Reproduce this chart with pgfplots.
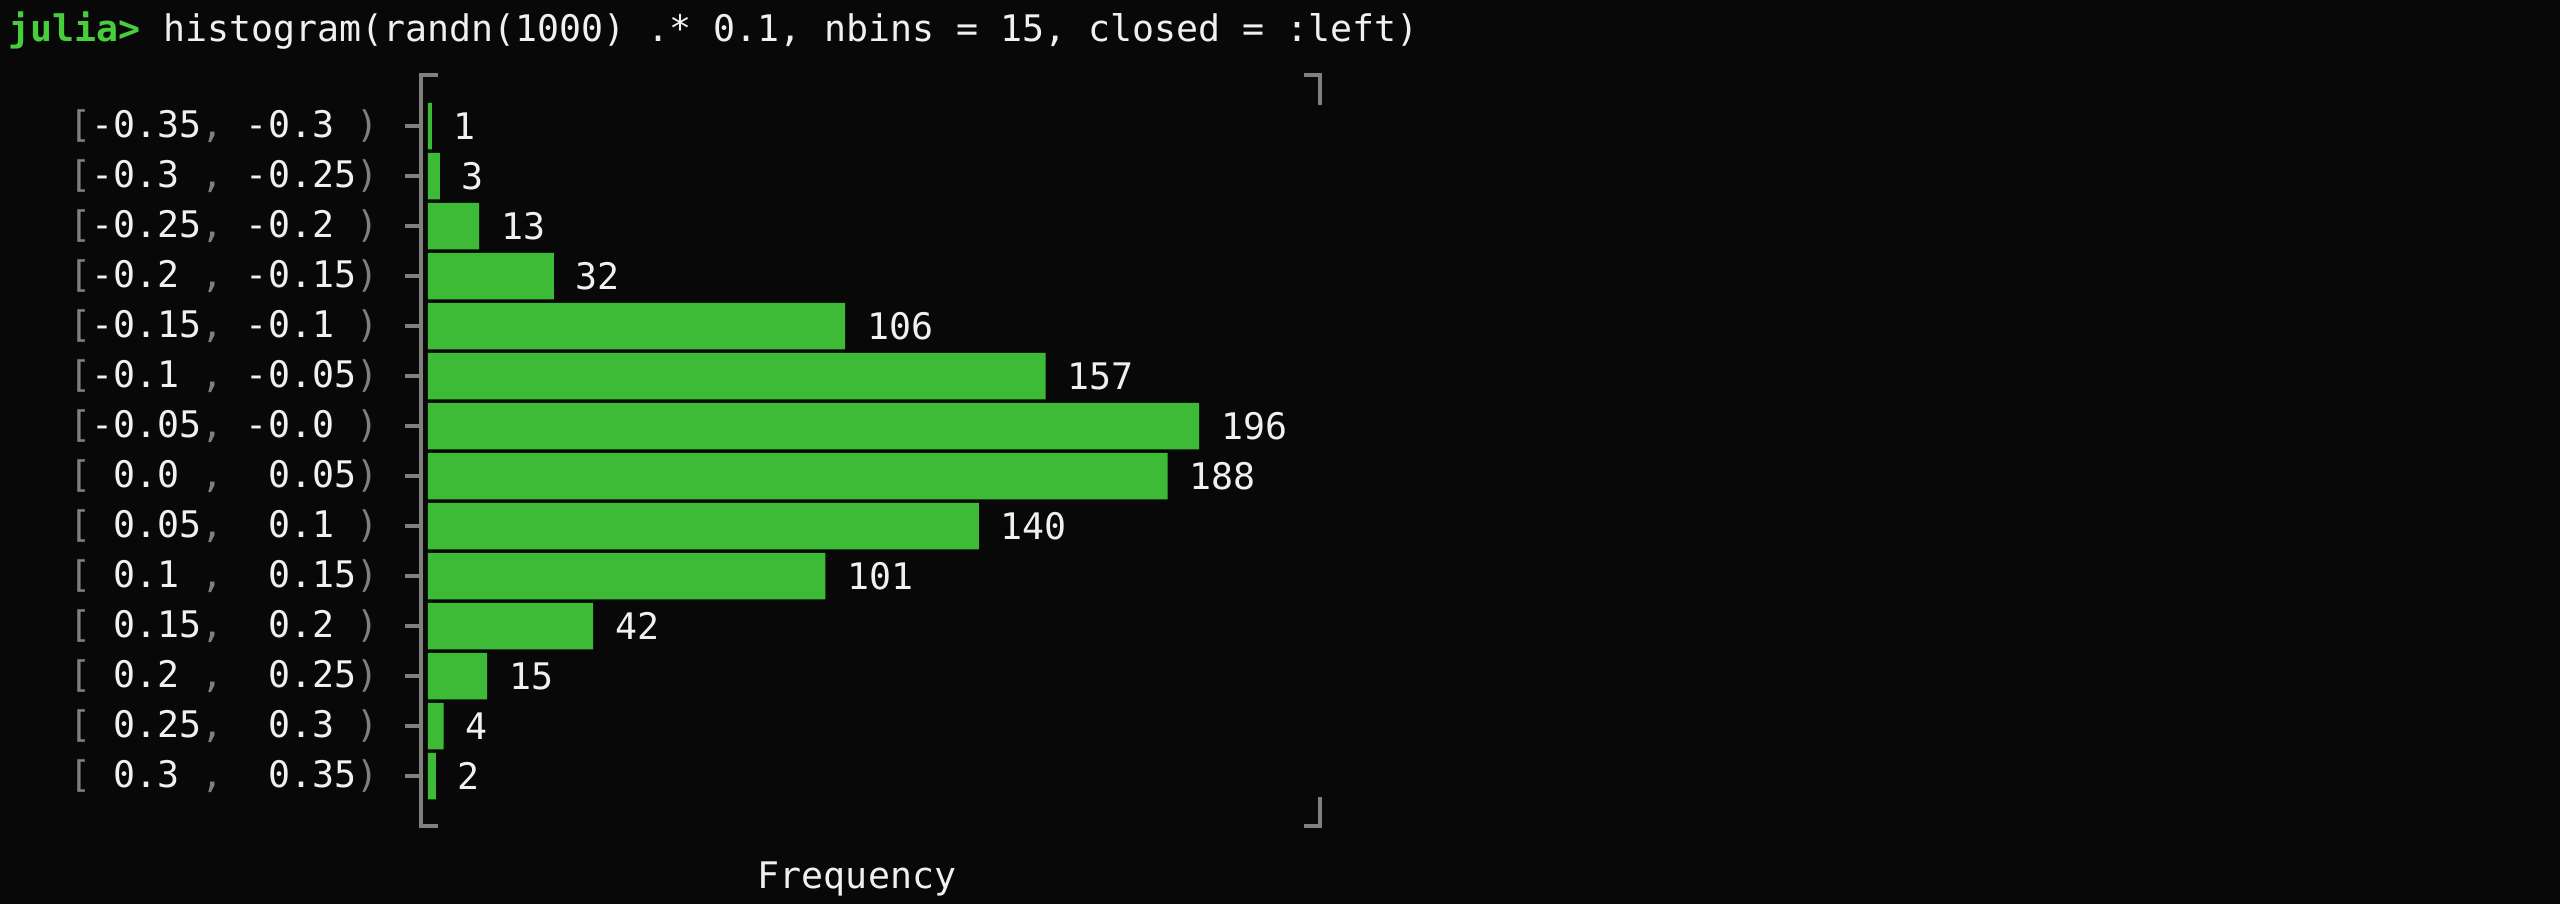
\documentclass[border=0pt]{standalone}
\usepackage{pgfplots}
\pgfplotsset{compat=1.18}
\usepackage{fontspec}
\setmainfont{DejaVu Sans Mono}
\definecolor{bg}{RGB}{8,8,8}
\definecolor{barc}{RGB}{61,187,55}
\definecolor{fg}{RGB}{240,240,240}
\definecolor{brd}{RGB}{128,128,128}
\definecolor{prompt}{RGB}{72,205,60}
\newcommand\lb{\textcolor{brd}{[}}
\newcommand\cm{\textcolor{brd}{,}}
\newcommand\rp{\textcolor{brd}{)}}
\newcommand\Sp{\hphantom{0}}
\newcommand\tfont{\fontsize{9.15}{10}\selectfont}
\begin{document}
\frenchspacing
\begin{tikzpicture}[x=1pt,y=1pt]
\fill[bg] (0,0) rectangle (640,226);
\begin{axis}[at={(107pt,19.5pt)}, anchor=south west, scale only axis,
  width=222pt, height=187.75pt,
  xbar, bar width=0.93, bar shift=0pt,
  xmin=0, xmax=225.7, ymin=-1.02, ymax=14, y dir=reverse,
  axis line style={draw=none}, xtick=\empty, ytick={0,...,13},
  major tick length=0pt, ytick style={draw=none},
  yticklabels={
    {\lb-0.35\cm\Sp-0.3\Sp\rp},
    {\lb-0.3\Sp\cm\Sp-0.25\rp},
    {\lb-0.25\cm\Sp-0.2\Sp\rp},
    {\lb-0.2\Sp\cm\Sp-0.15\rp},
    {\lb-0.15\cm\Sp-0.1\Sp\rp},
    {\lb-0.1\Sp\cm\Sp-0.05\rp},
    {\lb-0.05\cm\Sp-0.0\Sp\rp},
    {\lb\Sp0.0\Sp\cm\Sp\Sp0.05\rp},
    {\lb\Sp0.05\cm\Sp\Sp0.1\Sp\rp},
    {\lb\Sp0.1\Sp\cm\Sp\Sp0.15\rp},
    {\lb\Sp0.15\cm\Sp\Sp0.2\Sp\rp},
    {\lb\Sp0.2\Sp\cm\Sp\Sp0.25\rp},
    {\lb\Sp0.25\cm\Sp\Sp0.3\Sp\rp},
    {\lb\Sp0.3\Sp\cm\Sp\Sp0.35\rp}},
  yticklabel style={anchor=east, inner sep=0pt, xshift=-12.25pt, text=fg, font=\tfont},
  nodes near coords,
  nodes near coords style={anchor=west, inner sep=0pt, xshift=5.3pt, text=fg, font=\tfont},
  /pgf/number format/assume math mode=true,
  clip=false]
\addplot[fill=barc, draw=none] coordinates {
  (1,0) (3,1) (13,2) (32,3) (106,4) (157,5) (196,6)
  (188,7) (140,8) (101,9) (42,10) (15,11) (4,12) (2,13)};
\end{axis}
\draw[brd, line width=0.9pt, line join=miter, line cap=rect]
  (109,207.25) -- (105.25,207.25) -- (105.25,19.5) -- (109,19.5);
\foreach \i in {0,...,13} {
  \draw[brd, line width=0.9pt] (101.25,194.5-12.5*\i) -- (105.25,194.5-12.5*\i);
}
\draw[brd, line width=0.9pt, line join=miter, line cap=rect]
  (326.5,207.25) -- (330,207.25) -- (330,200.25);
\draw[brd, line width=0.9pt, line join=miter, line cap=rect]
  (330,26.25) -- (330,19.5) -- (326.5,19.5);
\node[anchor=base west, inner sep=0pt, font=\tfont] at (2,215.75)
  {\textcolor{prompt}{\bfseries julia>} \textcolor{fg}{histogram(randn(1000) .* 0.1, nbins = 15, closed = :left)}};
\node[anchor=base, inner sep=0pt, text=fg, font=\tfont] at (214.25,3.9) {Frequency};
\pgfresetboundingbox
\path[use as bounding box] (0,0) rectangle (640,226);
\end{tikzpicture}
\end{document}
